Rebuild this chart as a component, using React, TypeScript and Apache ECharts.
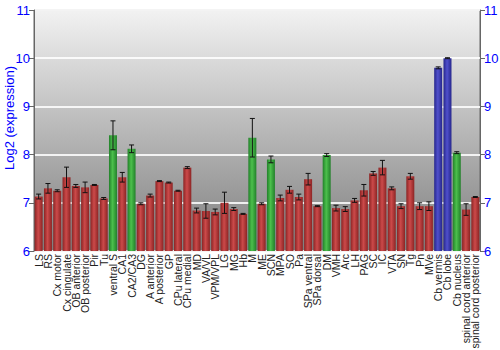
import React, { useEffect, useRef } from "react";
import * as echarts from "echarts";

const categories = [
  "LS", "RS", "Cx motor", "Cx cingulate", "OB anterior", "OB posterior", "Pir", "Tu",
  "ventral S", "CA1", "CA2/CA3", "DG", "A anterior", "A posterior", "GP", "CPu lateral",
  "CPu medial", "MD", "VA/VL", "VPM/VPL", "LG", "MG", "Hb", "M", "ME", "SCN", "MPA",
  "SO", "Pa", "SPa ventral", "SPa dorsal", "DM", "VMH", "Arc", "LH", "PAG", "SC", "IC",
  "VTA", "SN", "Tg", "Pn", "MVe", "Cb vermis", "Cb lobe", "Cb nucleus",
  "spinal cord anterior", "spinal cord posterior",
];

const values = [
  7.13, 7.30, 7.25, 7.53, 7.35, 7.32, 7.37, 7.09,
  8.40, 7.53, 8.12, 6.98, 7.15, 7.45, 7.42, 7.25,
  7.73, 6.84, 6.83, 6.81, 7.00, 6.87, 6.77, 8.35, 6.98, 7.90, 7.10,
  7.27, 7.12, 7.49, 6.93, 7.99, 6.89, 6.87, 7.05, 7.26, 7.61, 7.73,
  7.30, 6.93, 7.55, 6.93, 6.93, 9.80, 10.0, 8.04,
  6.86, 7.12,
];

const errors = [
  0.05, 0.10, 0.02, 0.21, 0.03, 0.11, 0.01, 0.02,
  0.30, 0.10, 0.08, 0.02, 0.03, 0.01, 0.01, 0.01,
  0.02, 0.05, 0.15, 0.06, 0.22, 0.03, 0.01, 0.40, 0.02, 0.07, 0.06,
  0.07, 0.06, 0.12, 0.01, 0.03, 0.06, 0.05, 0.04, 0.12, 0.04, 0.15,
  0.03, 0.05, 0.06, 0.07, 0.09, 0.02, 0.01, 0.02,
  0.12, 0.01,
];

// r = red, g = green, b = blue
const groups = [
  "r", "r", "r", "r", "r", "r", "r", "r",
  "g", "r", "g", "r", "r", "r", "r", "r",
  "r", "r", "r", "r", "r", "r", "r", "g", "r", "g", "r",
  "r", "r", "r", "r", "g", "r", "r", "r", "r", "r", "r",
  "r", "r", "r", "r", "r", "b", "b", "g",
  "r", "r",
];

const yTicks = [6, 7, 8, 9, 10, 11];
const yTitle = "Log2 (expression)";

const palette: Record<string, [string, string]> = {
  r: ["#8c2424", "#cc4a4a"],
  g: ["#22802a", "#4cc04c"],
  b: ["#26268c", "#5050cc"],
};

function barGradient(g: string) {
  const [edge, mid] = palette[g];
  return new echarts.graphic.LinearGradient(0, 0, 1, 0, [
    { offset: 0, color: edge },
    { offset: 0.45, color: mid },
    { offset: 1, color: edge },
  ]);
}

export default function App() {
  const ref = useRef<HTMLDivElement>(null);
  useEffect(() => {
    if (!ref.current) return;
    const chart = echarts.init(ref.current, undefined, { renderer: "svg" });
    const font = "Liberation Sans, Arial, sans-serif";
    const yAxisCommon = {
      type: "value" as const,
      min: yTicks[0],
      max: yTicks[yTicks.length - 1],
      interval: 1,
      axisLine: { show: true, lineStyle: { color: "#666", width: 1 } },
      axisTick: { show: true, length: 5, lineStyle: { color: "#666" } },
      axisLabel: { color: "#0000ff", fontSize: 13, fontFamily: font, margin: 4 },
      splitLine: { show: false },
    };
    chart.setOption({
      animation: false,
      graphic: [
        {
          type: "text",
          x: 9,
          y: 118,
          rotation: Math.PI / 2,
          style: {
            text: yTitle,
            fill: "#0000ff",
            fontSize: 13,
            fontFamily: font,
            align: "center",
            verticalAlign: "middle",
          },
        },
      ],
      grid: {
        left: 34,
        right: 20,
        top: 10,
        bottom: 99,
        containLabel: false,
        outerBoundsMode: "none",
        show: true,
        borderColor: "#666",
        borderWidth: 1,
        backgroundColor: new echarts.graphic.LinearGradient(0, 0, 0, 1, [
          { offset: 0, color: "#f2f2f2" },
          { offset: 1, color: "#7e7e7e" },
        ]),
      },
      xAxis: {
        type: "category",
        data: categories,
        axisLine: { show: false },
        axisTick: { show: false },
        axisLabel: {
          rotate: 90,
          interval: 0,
          fontSize: 10.5,
          color: "#222",
          fontFamily: font,
          margin: 3,
        },
      },
      yAxis: [
        {
          ...yAxisCommon,
          position: "left",
          splitLine: { show: true, lineStyle: { color: "#ffffff", width: 2, opacity: 0.85 } },
        },
        { ...yAxisCommon, position: "right" },
      ],
      series: [
        {
          type: "bar",
          barCategoryGap: "14%",
          data: values.map((v, i) => ({
            value: v,
            itemStyle: { color: barGradient(groups[i]) },
          })),
        },
        {
          type: "custom",
          data: values.map((v, i) => [i, v - errors[i], v + errors[i]]),
          z: 10,
          renderItem: (params: any, api: any) => {
            const x = api.value(0);
            const lo = api.coord([x, api.value(1)]);
            const hi = api.coord([x, api.value(2)]);
            const hw = 2.5;
            const style = { stroke: "#111", lineWidth: 1 };
            return {
              type: "group",
              children: [
                { type: "line", shape: { x1: hi[0], y1: hi[1], x2: lo[0], y2: lo[1] }, style },
                { type: "line", shape: { x1: hi[0] - hw, y1: hi[1], x2: hi[0] + hw, y2: hi[1] }, style },
                { type: "line", shape: { x1: lo[0] - hw, y1: lo[1], x2: lo[0] + hw, y2: lo[1] }, style },
              ],
            };
          },
        },
      ],
    });
    return () => chart.dispose();
  }, []);
  return (
    <div
      ref={ref}
      style={{ position: "absolute", left: 0, top: 0, width: 500, height: 350 }}
    />
  );
}
